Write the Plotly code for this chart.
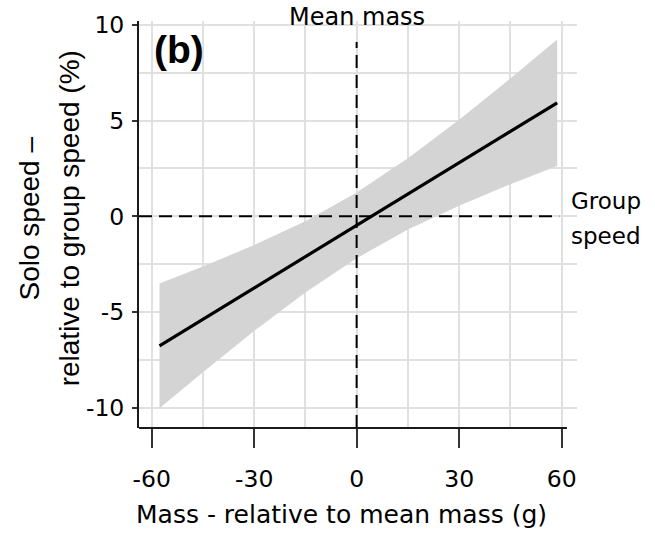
import plotly.graph_objects as go

# Fitted relationship between mass and solo speed
fit_mass = [-57.7, 58.7]
fit_speed = [-6.76, 5.93]

# 95% confidence band around the fit
band_mass = [-57.7, -45, -30, -15, 0, 15, 30, 45, 58.7]
band_upper = [-3.50, -2.62, -1.50, -0.25, 1.25, 3.03, 5.04, 7.20, 9.23]
band_lower = [-10.02, -8.14, -5.98, -3.97, -2.19, -0.69, 0.56, 1.68, 2.63]

# Reference lines: mean mass (x = 0) and group speed (y = 0)
mean_mass_x = [0, 0]
mean_mass_y = [-11.05, 9.1]
group_speed_x = [-63.7, 59.3]
group_speed_y = [0, 0]

x_ticks = [-60, -30, 0, 30, 60]
y_ticks = [-10, -5, 0, 5, 10]

TXT = "DejaVu Sans"
GRID = "#e0e0e0"
AX = "#1a1a1a"

fig = go.Figure()

fig.add_trace(go.Scatter(
    x=band_mass + band_mass[::-1],
    y=band_upper + band_lower[::-1],
    fill="toself", fillcolor="#d4d4d4",
    line=dict(width=0), mode="lines", hoverinfo="skip",
))

fig.add_trace(go.Scatter(
    x=mean_mass_x, y=mean_mass_y, mode="lines",
    line=dict(color="black", width=2, dash="13px,7px"),
))
fig.add_trace(go.Scatter(
    x=group_speed_x, y=group_speed_y, mode="lines",
    line=dict(color="black", width=2, dash="13px,7px"),
))

fig.add_trace(go.Scatter(
    x=fit_mass, y=fit_speed, mode="lines",
    line=dict(color="black", width=3.2),
))

fig.update_layout(
    width=655, height=541,
    margin=dict(l=139, r=78, t=21, b=113),
    paper_bgcolor="white", plot_bgcolor="white",
    showlegend=False,
    font=dict(family=TXT, size=23, color="black"),
    xaxis=dict(
        range=[-63.7, 64.5],
        tickvals=x_ticks, ticktext=[str(v) for v in x_ticks],
        ticks="outside", ticklen=19, tickwidth=2, tickcolor="#333333",
        showgrid=True, gridcolor=GRID, gridwidth=1.5,
        minor=dict(dtick=15, tick0=0, showgrid=True, gridcolor=GRID, gridwidth=1.5),
        zeroline=False, showline=False,
        tickfont=dict(family=TXT, size=23.5, color="black"),
        ticklabelstandoff=11,
    ),
    yaxis=dict(
        range=[-11.05, 10.2],
        tickvals=y_ticks, ticktext=[str(v) for v in y_ticks],
        ticks="outside", ticklen=5, tickwidth=2, tickcolor="#333333",
        showgrid=True, gridcolor=GRID, gridwidth=1.5,
        minor=dict(dtick=2.5, tick0=0, showgrid=True, gridcolor=GRID, gridwidth=1.5),
        zeroline=False, showline=True, linecolor=AX, linewidth=2,
        tickfont=dict(family=TXT, size=23.5, color="black"),
        ticklabelstandoff=3,
    ),
    shapes=[
        dict(type="line", xref="paper", yref="paper", x0=0, x1=0.977, y0=0, y1=0,
             line=dict(color=AX, width=2)),
    ],
    annotations=[
        dict(text="Mass - relative to mean mass (g)", xref="paper", yref="paper",
             x=0.462, y=-0.213, xanchor="center", yanchor="middle", showarrow=False,
             font=dict(family=TXT, size=25)),
        dict(text="Solo speed \u2013", xref="paper", yref="paper",
             x=-0.251, y=0.515, xanchor="center", yanchor="middle", showarrow=False,
             textangle=-90, font=dict(family="Liberation Sans", size=28)),
        dict(text="relative to group speed (%)", xref="paper", yref="paper",
             x=-0.160, y=0.515, xanchor="center", yanchor="middle", showarrow=False,
             textangle=-90, font=dict(family="Liberation Sans", size=28)),
        dict(text="Mean mass", xref="x", yref="paper", x=0, y=1.01,
             xanchor="center", yanchor="middle", showarrow=False,
             font=dict(family=TXT, size=24)),
        dict(text="Group", xref="paper", yref="y", x=1.0, y=0.8,
             xanchor="left", yanchor="middle", showarrow=False, xshift=-8,
             font=dict(family=TXT, size=23)),
        dict(text="speed", xref="paper", yref="y", x=1.0, y=-1.0,
             xanchor="left", yanchor="middle", showarrow=False, xshift=-8,
             font=dict(family=TXT, size=23)),
        dict(text="<b>(b)</b>", xref="paper", yref="paper", x=0.03, y=0.931,
             xanchor="left", yanchor="middle", showarrow=False,
             font=dict(family="Liberation Sans", size=39)),
    ],
)

fig.write_html("out.html")
